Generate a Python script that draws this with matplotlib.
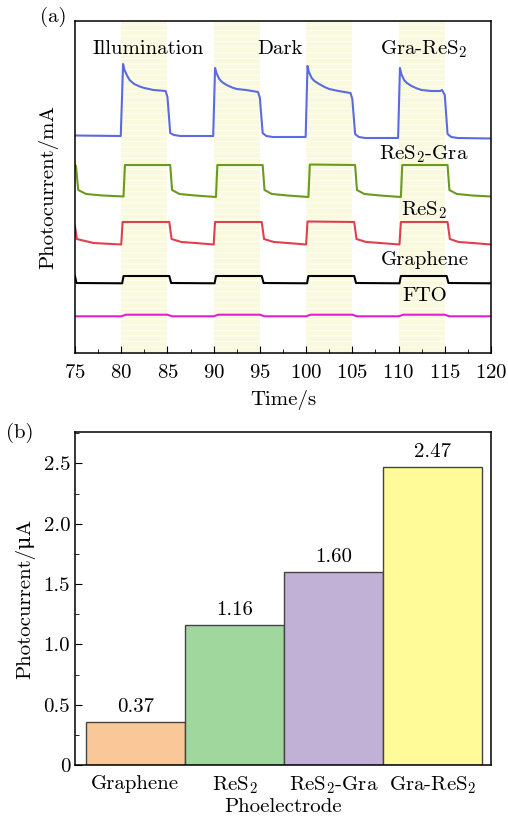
import matplotlib
matplotlib.use('Agg')
import matplotlib.pyplot as plt
from matplotlib.ticker import MultipleLocator

plt.rcParams['font.family'] = ['cmr10', 'DejaVu Serif']
plt.rcParams['mathtext.fontset'] = 'cm'
plt.rcParams['axes.formatter.use_mathtext'] = True
plt.rcParams['font.size'] = 15

# ---- (a) photocurrent vs time (arbitrary offsets) ----
light_on = [80, 90, 100, 110]

t_gra_res2 = [75.0, 79.95, 80.2, 80.35, 80.6, 80.9, 81.4, 82.0, 82.5, 83.5, 84.8, 85.0, 85.3, 85.7, 86.4,
              89.95, 90.15, 90.3, 90.6, 90.9, 91.4, 92.0, 92.5, 93.5, 94.8, 95.0, 95.3, 95.7, 96.4,
              99.95, 100.15, 100.3, 100.6, 100.9, 101.4, 102.0, 102.5, 103.5, 104.8, 105.0, 105.3, 105.7, 106.4,
              109.95, 110.15, 110.3, 110.6, 110.9, 111.4, 112.0, 112.5, 113.5, 114.5, 114.7, 115.0, 115.3, 115.7,
              116.4, 120.0]
i_gra_res2 = [21.75, 21.7, 28.9, 28.3, 27.8, 27.3, 26.9, 26.65, 26.5, 26.3, 26.2, 25.6, 22.0, 21.8, 21.7,
              21.7, 28.5, 28.0, 27.4, 27.1, 26.8, 26.55, 26.4, 26.3, 26.1, 25.5, 22.0, 21.7, 21.6,
              21.6, 28.7, 28.1, 27.5, 27.2, 26.9, 26.6, 26.4, 26.2, 26.0, 25.4, 21.9, 21.6, 21.5,
              21.5, 28.5, 27.9, 27.3, 27.0, 26.7, 26.45, 26.3, 26.2, 26.2, 26.3, 25.8, 21.9, 21.6,
              21.5, 21.45]

t_res2_gra = [75.0, 75.1, 75.35, 76.2, 78.0, 80.25, 80.4, 85.3, 85.5, 86.3, 88.0,
              90.25, 90.4, 95.3, 95.5, 96.3, 98.0, 100.25, 100.4, 105.3, 105.5, 106.3, 108.0,
              110.25, 110.4, 115.3, 115.5, 116.3, 118.0, 120.0]
i_res2_gra = [18.8, 18.7, 16.3, 15.9, 15.75, 15.65, 18.8, 18.8, 16.3, 15.9, 15.75,
              15.6, 18.8, 18.8, 16.3, 15.9, 15.75, 15.6, 18.85, 18.8, 16.3, 15.9, 15.75,
              15.6, 18.8, 18.8, 16.3, 15.9, 15.75, 15.65]

t_res2 = [75.0, 75.2, 77.0, 80.0, 80.15, 85.2, 85.45, 86.5, 88.0,
          90.0, 90.15, 95.2, 95.45, 96.5, 98.0, 100.0, 100.15, 105.2, 105.45, 106.5, 108.0,
          110.1, 110.25, 115.3, 115.55, 116.5, 118.0, 120.0]
i_res2 = [12.7, 11.4, 11.0, 10.85, 13.1, 13.1, 11.4, 11.1, 11.0,
          10.85, 13.1, 13.1, 11.4, 11.1, 11.0, 10.85, 13.15, 13.1, 11.4, 11.1, 11.0,
          10.85, 13.1, 13.1, 11.4, 11.1, 11.0, 10.85]

t_graphene = [75.0, 75.15, 80.1, 80.25, 85.2, 85.4, 90.1, 90.25, 95.2, 95.4,
              100.1, 100.25, 105.2, 105.4, 110.1, 110.25, 115.2, 115.4, 120.0]
i_graphene = [7.7, 7.0, 6.97, 7.7, 7.7, 7.0, 6.97, 7.7, 7.7, 7.0,
              6.97, 7.7, 7.7, 7.0, 6.97, 7.7, 7.7, 7.0, 6.97]

t_fto = [75.0, 80.0, 80.5, 85.0, 85.5, 90.0, 90.5, 95.0, 95.5,
         100.0, 100.5, 105.0, 105.5, 110.0, 110.5, 115.0, 115.5, 120.0]
i_fto = [3.67, 3.67, 3.83, 3.83, 3.67, 3.67, 3.83, 3.83, 3.67,
         3.67, 3.83, 3.83, 3.67, 3.67, 3.83, 3.83, 3.67, 3.67]

# ---- (b) bar chart ----
electrodes = ['Graphene', 'ReS$_2$', 'ReS$_2$-Gra', 'Gra-ReS$_2$']
photocurrent = [0.355, 1.16, 1.60, 2.47]
bar_labels = ['0.37', '1.16', '1.60', '2.47']
bar_colors = ['#fac898', '#9fd79c', '#c2b1d6', '#fffb99']
y_ticks = [0, 0.5, 1.0, 1.5, 2.0, 2.5]
y_ticklabels = ['0', '0.5', '1.0', '1.5', '2.0', '2.5']

W, H = 508, 816
fig = plt.figure(figsize=(W / 100, H / 100), dpi=100)

ax1 = fig.add_axes([75 / W, 1 - 353 / H, 416 / W, 332 / H])
for t0 in light_on:
    ax1.axvspan(t0, t0 + 5, facecolor='#f9f9de', edgecolor='#fdfdf0', hatch='---', lw=0, zorder=0)
ax1.plot(t_gra_res2, i_gra_res2, c='#5b6ae0', lw=1.5)
ax1.plot(t_res2_gra, i_res2_gra, c='#6b9a1e', lw=1.5)
ax1.plot(t_res2, i_res2, c='#e0404c', lw=1.5)
ax1.plot(t_graphene, i_graphene, c='k', lw=1.5)
ax1.plot(t_fto, i_fto, c='#e020d0', lw=1.5)

ax1.set_xlim(75, 120)
ax1.set_ylim(0, 33.2)
ax1.xaxis.set_major_locator(MultipleLocator(5))
ax1.xaxis.set_minor_locator(MultipleLocator(2.5))
ax1.tick_params(axis='x', which='major', direction='in', length=5, pad=8)
ax1.tick_params(axis='x', which='minor', direction='in', length=3)
ax1.set_yticks([])
ax1.set_xlabel('Time/s', labelpad=6)
ax1.set_ylabel('Photocurrent/mA', labelpad=12)

ax1.text(82.9, 30.4, 'Illumination', ha='center', va='center')
ax1.text(97.2, 30.4, 'Dark', ha='center', va='center')
ax1.text(112.7, 30.4, 'Gra-ReS$_2$', ha='center', va='center')
ax1.text(112.7, 19.9, 'ReS$_2$-Gra', ha='center', va='center')
ax1.text(112.7, 14.3, 'ReS$_2$', ha='center', va='center')
ax1.text(112.8, 9.3, 'Graphene', ha='center', va='center')
ax1.text(112.8, 5.7, 'FTO', ha='center', va='center')
fig.text(53 / W, 1 - 17 / H, '(a)', ha='center', va='center')

ax2 = fig.add_axes([75 / W, 1 - 765 / H, 416 / W, 333 / H])
x = range(len(electrodes))
ax2.bar(x, photocurrent, width=1.0, color=bar_colors, edgecolor='#444444', lw=1.0)
for xi, h, lab in zip(x, photocurrent, bar_labels):
    ax2.text(xi, h + 0.05, lab, ha='center', va='bottom')
ax2.set_xlim(-0.61, 3.59)
ax2.set_ylim(0, 2.76)
ax2.set_xticks(list(x))
ax2.set_xticklabels(electrodes)
ax2.tick_params(axis='x', length=0, pad=7)
ax2.set_yticks(y_ticks, labels=y_ticklabels)
ax2.yaxis.set_minor_locator(MultipleLocator(0.25))
ax2.tick_params(axis='y', which='major', direction='in', length=5)
ax2.tick_params(axis='y', which='minor', direction='in', length=3)
ax2.set_xlabel('Phoelectrode', labelpad=1)
ax2.set_ylabel('Photocurrent/μA', labelpad=6)
fig.text(20 / W, 1 - 433 / H, '(b)', ha='center', va='center')

for ax in (ax1, ax2):
    for sp in ax.spines.values():
        sp.set_linewidth(1.1)

fig.savefig('out.png', dpi=100)
